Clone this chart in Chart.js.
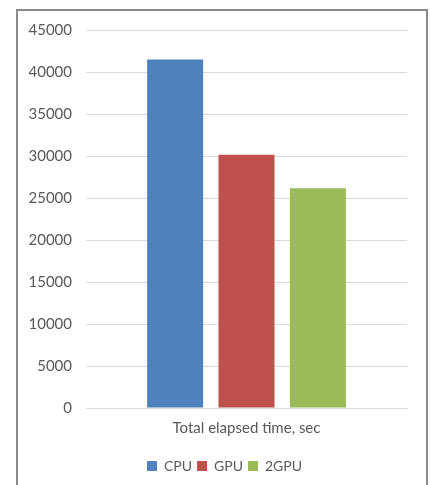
<!DOCTYPE html>
<html>
<head>
<meta charset="utf-8">
<script src="https://cdn.jsdelivr.net/npm/chart.js@4"></script>
<style>
    html, body { margin: 0; padding: 0; background: #fff; }
    #wrap { position: relative; width: 430px; height: 485px; overflow: hidden; }
    #marco {
        position: absolute; left: 16px; top: 9px; width: 408px; height: 500px;
        border: 2px solid #8a8a8a; pointer-events: none;
    }
    canvas { position: absolute; left: 0; top: 0; }
</style>
</head>
<body>
<div id="wrap">
    <canvas id="grafico" width="430" height="485"></canvas>
    <div id="marco"></div>
</div>
<script>
// Datos del gráfico
const categorias = ['Total elapsed time, sec']
const series = ['CPU', 'GPU', '2GPU']
const valores = [[41500], [30150], [26150]]
const colores = ['#4f81bd', '#c0504d', '#9bbb59']
const ticksY = [0, 5000, 10000, 15000, 20000, 25000, 30000, 35000, 40000, 45000]

const texto = '#595959'
const fuente = { family: 'Lato', size: 15 }

const datasets = series.map((nombre, i) => ({
    label: nombre,
    data: valores[i],
    backgroundColor: colores[i],
    borderWidth: 0,
    categoryPercentage: 0.667,
    barPercentage: 0.785
}))

// Desplazar la leyenda para centrarla dentro del marco
const moverLeyenda = {
    id: 'moverLeyenda',
    afterLayout(chart) {
        if (chart.legend) {
            chart.legend.left += 21
            chart.legend.right += 21
        }
    }
}

new Chart(document.getElementById('grafico').getContext('2d'), {
    type: 'bar',
    data: { labels: categorias, datasets },
    plugins: [moverLeyenda],
    options: {
        responsive: false,
        animation: false,
        layout: { padding: { left: 0, right: 23, top: 30, bottom: 2 } },
        plugins: {
            legend: {
                position: 'bottom',
                labels: {
                    boxWidth: 10,
                    boxHeight: 10,
                    padding: 5,
                    color: texto,
                    font: { family: 'Lato', size: 14 }
                }
            },
            tooltip: { enabled: false }
        },
        scales: {
            x: {
                grid: { display: false },
                border: { display: true, color: '#d9d9d9', width: 1 },
                ticks: { color: texto, font: fuente, padding: 3 },
                afterFit: (escala) => { escala.height += 14 }
            },
            y: {
                min: 0,
                max: 45000,
                afterFit: (escala) => { escala.width = 86 },
                afterBuildTicks: (escala) => {
                    escala.ticks = ticksY.map(v => ({ value: v }))
                },
                grid: { color: '#d9d9d9', drawTicks: false },
                border: { display: false },
                ticks: {
                    color: texto,
                    font: fuente,
                    padding: 14,
                    callback: (v) => String(v)
                }
            }
        }
    }
})
</script>
</body>
</html>
